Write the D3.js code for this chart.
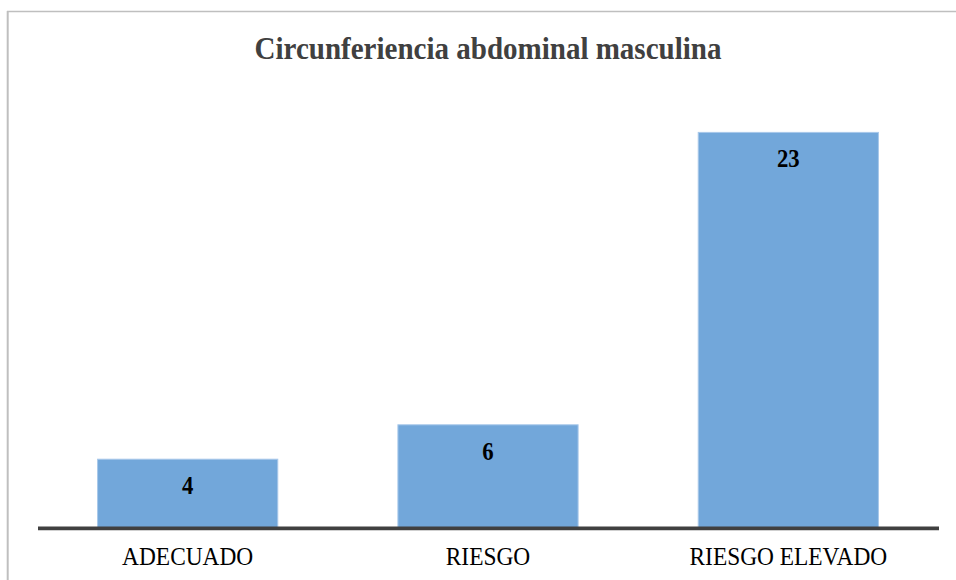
<!DOCTYPE html>
<html>
<head>
<meta charset="utf-8">
<script src="https://cdn.jsdelivr.net/npm/d3@7"></script>
<style>
  html, body { margin: 0; padding: 0; background: #ffffff; }
  svg { display: block; }
  .serif { font-family: "Liberation Serif", "Times New Roman", Tinos, "DejaVu Serif", serif; }
</style>
</head>
<body>
<div id="chart"></div>
<script>
// Chart data
const categories = ["ADECUADO", "RIESGO", "RIESGO ELEVADO"];
const values = [4, 6, 23];
const chartTitle = "Circunferiencia abdominal masculina";

const width = 956, height = 580;
const condense = 0.91;      // narrow typeface look for labels
const titleCondense = 0.893;

const svg = d3.select("#chart").append("svg")
  .attr("width", width)
  .attr("height", height);

// Frame of the chart area
svg.append("line")
  .attr("x1", 7).attr("x2", width)
  .attr("y1", 11.5).attr("y2", 11.5)
  .attr("stroke", "#bfbfbf").attr("stroke-width", 1.3);
svg.append("line")
  .attr("x1", 7.7).attr("x2", 7.7)
  .attr("y1", 11).attr("y2", height)
  .attr("stroke", "#bfbfbf").attr("stroke-width", 2);

// Scales
const x = d3.scaleBand()
  .domain(categories)
  .range([37.5, 938.5])
  .paddingInner(0.4)
  .paddingOuter(0.2);

const y = d3.scaleLinear()
  .domain([0, 24])
  .range([528, 528 - 24 * 17.2]);

const data = categories.map((c, i) => ({ cat: c, val: values[i] }));

// Title
svg.append("text")
  .attr("class", "serif")
  .attr("transform", `translate(488,59.3) scale(${titleCondense},1)`)
  .attr("text-anchor", "middle")
  .style("font-weight", "bold")
  .style("font-size", "32.5px")
  .attr("fill", "#404040")
  .text(chartTitle);

// Bars
svg.append("g").selectAll("rect")
  .data(data)
  .join("rect")
  .attr("x", d => x(d.cat))
  .attr("y", d => y(d.val))
  .attr("width", x.bandwidth())
  .attr("height", d => y(0) - y(d.val))
  .attr("fill", "#72a7da")
  .attr("stroke", "#a8c8ea")
  .attr("stroke-width", 1);

// Value labels inside the top of each bar
svg.append("g").selectAll("text")
  .data(data)
  .join("text")
  .attr("class", "serif")
  .attr("transform", d => `translate(${x(d.cat) + x.bandwidth() / 2},${y(d.val) + 35}) scale(${condense},1)`)
  .attr("text-anchor", "middle")
  .style("font-weight", "bold")
  .style("font-size", "25px")
  .attr("fill", "#000000")
  .text(d => d.val);

// Category axis
const xAxis = svg.append("g")
  .attr("transform", "translate(0,527.8)")
  .call(d3.axisBottom(x).tickSize(0).tickPadding(0));
xAxis.attr("font-family", null).attr("font-size", null);
xAxis.select(".domain")
  .attr("stroke", "#404040")
  .attr("stroke-width", 3.7);
xAxis.selectAll(".tick text")
  .attr("class", "serif")
  .style("font-size", "25.7px")
  .attr("fill", "#000000")
  .attr("dy", null)
  .attr("y", 0)
  .attr("transform", `translate(0,37.5) scale(${condense},1)`);
</script>
</body>
</html>
